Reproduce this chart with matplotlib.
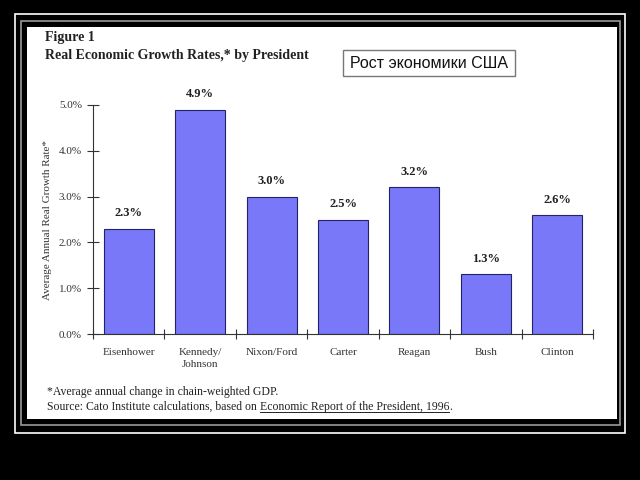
import matplotlib.pyplot as plt
from matplotlib.patches import Rectangle
from matplotlib.ticker import FixedLocator, FuncFormatter

presidentes = ['Eisenhower', 'Kennedy/\nJohnson', 'Nixon/Ford', 'Carter', 'Reagan', 'Bush', 'Clinton']
crecimiento = [2.3, 4.9, 3.0, 2.5, 3.2, 1.3, 2.6]
etiquetas = ['2.3%', '4.9%', '3.0%', '2.5%', '3.2%', '1.3%', '2.6%']
y_ticks = [0, 1, 2, 3, 4, 5]

W, H = 640, 480
fig = plt.figure(figsize=(6.4, 4.8), dpi=100)
fig.patch.set_facecolor('black')

def px(x0, y0, x1, y1, **kw):
    # rectangulo en pixeles (origen arriba a la izquierda)
    return Rectangle((x0 / W, 1 - y1 / H), (x1 - x0) / W, (y1 - y0) / H,
                     transform=fig.transFigure, **kw)

# marco doble
fig.patches.append(px(15, 14, 625, 433, fill=False, edgecolor='white', lw=1.2, zorder=-3))
fig.patches.append(px(21, 21, 620, 425, fill=False, edgecolor='#999999', lw=1.2, zorder=-3))
fig.patches.append(px(27, 27, 617, 419, facecolor='white', edgecolor='none', zorder=-2))

ax = fig.add_axes([93 / W, 1 - 334 / H, 500 / W, 229 / H])
ax.set_zorder(2)
ax.set_facecolor('none')
pos = range(len(crecimiento))
ax.bar(pos, crecimiento, width=0.7, color='#7878F8', edgecolor='#23236b', linewidth=0.8, zorder=2)

for i, (v, t) in enumerate(zip(crecimiento, etiquetas)):
    ax.text(i, v + 0.2, t, ha='center', va='bottom', fontsize=9, fontweight='bold',
            family='Liberation Serif', color='#222222')

ax.set_xlim(-0.5, 6.5)
ax.set_ylim(0, 5)
ax.spines['top'].set_visible(False)
ax.spines['right'].set_visible(False)
for s in ('left', 'bottom'):
    ax.spines[s].set_color('#333333')
    ax.spines[s].set_linewidth(0.8)

ax.set_yticks(y_ticks)
ax.yaxis.set_major_formatter(FuncFormatter(lambda v, p: f'{v:.1f}%'))
ax.tick_params(axis='y', direction='inout', length=8, width=0.8, labelsize=8, pad=4, colors='#333333')
ax.set_xticks(list(pos))
ax.set_xticklabels(presidentes, family='Liberation Serif', fontsize=8, linespacing=1.5)
ax.xaxis.set_minor_locator(FixedLocator([i + 0.5 for i in range(-1, 7)]))
ax.tick_params(axis='x', which='major', length=0, pad=10, colors='#333333')
ax.tick_params(axis='x', which='minor', direction='inout', length=7, width=0.8, color='#333333')
for lab in ax.get_yticklabels():
    lab.set_family('Liberation Serif')

fig.text(48 / W, 1 - 220 / H, 'Average Annual Real Growth Rate*', rotation=90,
         ha='center', va='center', fontsize=8, family='Liberation Serif', color='#333333')

# titulos
fig.text(45 / W, 1 - 37 / H, 'Figure 1', fontsize=10, fontweight='bold',
         family='Liberation Serif', va='center', color='#222222')
fig.text(45 / W, 1 - 56 / H, 'Real Economic Growth Rates,* by President', fontsize=10,
         fontweight='bold', family='Liberation Serif', va='center', color='#222222')

# recuadro
fig.patches.append(px(343, 50, 515, 76, facecolor='white', edgecolor='#777777', lw=1))
fig.text(429 / W, 1 - 63 / H, 'Рост экономики США', ha='center', va='center',
         fontsize=11.5, family='Liberation Sans', color='#111111')

# notas
fs = 8.5
fig.text(47 / W, 1 - 392 / H, '*Average annual change in chain-weighted GDP.',
         fontsize=fs, family='Liberation Serif', va='center', color='#222222')
t1 = fig.text(47 / W, 1 - 407 / H, 'Source: Cato Institute calculations, based on ',
              fontsize=fs, family='Liberation Serif', va='center', color='#222222')
r = fig.canvas.get_renderer()
bb = t1.get_window_extent(r)
t2 = fig.text(bb.x1 / W, 1 - 407 / H, 'Economic Report of the President, 1996',
              fontsize=fs, family='Liberation Serif', va='center', color='#222222')
bb2 = t2.get_window_extent(r)
fig.text(bb2.x1 / W, 1 - 407 / H, '.', fontsize=fs, family='Liberation Serif',
         va='center', color='#222222')
fig.add_artist(plt.Line2D([bb2.x0 / W, bb2.x1 / W], [(bb2.y0 + 1) / H] * 2,
                          transform=fig.transFigure, color='#222222', lw=0.7))

fig.savefig('out.png', dpi=100, facecolor='black')
